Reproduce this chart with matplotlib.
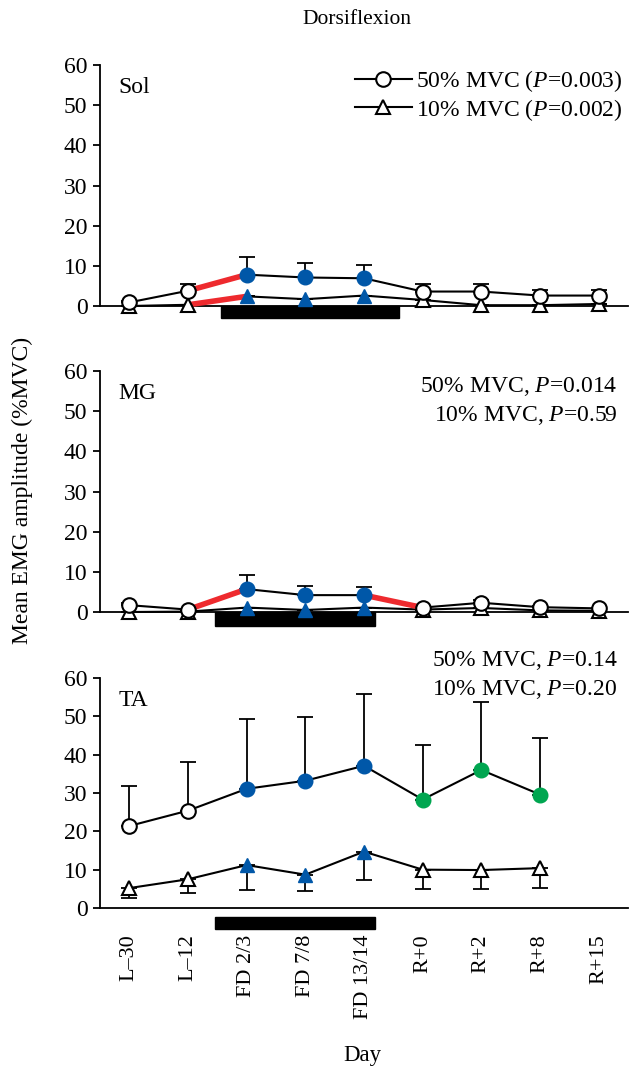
import numpy as np
import matplotlib
matplotlib.use("Agg")
import matplotlib.pyplot as plt
from matplotlib.lines import Line2D
from matplotlib.patches import Rectangle
import matplotlib.transforms as mtransforms

plt.rcParams['font.family'] = ['Liberation Serif', 'DejaVu Serif']
plt.rcParams['mathtext.fontset'] = 'custom'
plt.rcParams['mathtext.rm'] = 'Liberation Serif'
plt.rcParams['mathtext.it'] = 'Liberation Serif:italic'

days = ['L\u201330', 'L\u201312', 'FD 2/3', 'FD 7/8', 'FD 13/14', 'R+0', 'R+2', 'R+8', 'R+15']

# Sol
sol50 = [0.9, 3.8, 7.8, 7.1, 6.9, 3.6, 3.6, 2.6, 2.6]
sol50_err = [0.3, 1.7, 4.4, 3.7, 3.4, 1.8, 1.8, 1.5, 1.5]
sol10 = [0.0, 0.3, 2.4, 1.7, 2.6, 1.5, 0.2, 0.2, 0.5]
sol10_err = [0, 0, 0, 0, 0, 0, 0, 0, 0]

# MG
mg50 = [1.7, 0.6, 5.7, 4.2, 4.2, 1.1, 2.3, 1.2, 0.9]
mg50_err = [0.6, 0.2, 3.4, 2.2, 2.1, 0.3, 0.8, 0.3, 0.2]
mg10 = [0.0, 0.1, 1.1, 0.5, 1.1, 0.6, 1.0, 0.4, 0.3]
mg10_err = [0, 0, 0, 0, 0, 0, 0, 0, 0]

# TA
ta50 = [21.4, 25.4, 31.1, 33.2, 37.1, 28.3, 36.0, 29.6, np.nan]
ta50_err = [10.5, 12.8, 18.1, 16.5, 18.8, 14.1, 17.8, 14.7, np.nan]
ta10 = [5.2, 7.5, 11.2, 8.7, 14.7, 10.0, 9.9, 10.4, np.nan]
ta10_err = [2.5, 3.5, 6.4, 4.3, 7.3, 5.1, 5.0, 5.2, np.nan]

# point classes: 'o' open, 'b' in-flight (blue), 'g' post-flight (green)
sol50_cls = ['o', 'o', 'b', 'b', 'b', 'o', 'o', 'o', 'o']
sol10_cls = ['o', 'o', 'b', 'b', 'b', 'o', 'o', 'o', 'o']
mg50_cls = ['o', 'o', 'b', 'b', 'b', 'o', 'o', 'o', 'o']
mg10_cls = ['o', 'o', 'b', 'b', 'b', 'o', 'o', 'o', 'o']
ta50_cls = ['o', 'o', 'b', 'b', 'b', 'g', 'g', 'g', 'o']
ta10_cls = ['o', 'o', 'b', 'b', 'b', 'o', 'o', 'o', 'o']

# significant changes (red segments)
sol50_red = [(1, 2)]
sol10_red = [(1, 2)]
mg50_red = [(1, 2), (4, 5)]
mg10_red = []
ta50_red = []
ta10_red = []

colors = {'o': 'white', 'b': '#0057a8', 'g': '#00a650'}
x = np.arange(len(days))

W, H = 629, 1069
fig = plt.figure(figsize=(W / 100, H / 100), dpi=100)


def add_ax(top, bottom):
    return fig.add_axes([100 / W, (H - bottom) / H, 528 / W, (bottom - top) / H])


def draw_series(ax, vals, errs, cls, red, marker, err_up):
    vals = np.array(vals, dtype=float)
    errs = np.array(errs, dtype=float)
    if err_up:
        yerr = [np.zeros_like(errs), errs]
    else:
        yerr = [errs, np.zeros_like(errs)]
    ax.errorbar(x, vals, yerr=yerr, fmt='none', ecolor='black', elinewidth=1.3,
                capsize=6, capthick=1.3, zorder=2, clip_on=False)
    ax.plot(x, vals, color='black', lw=1.5, zorder=3, clip_on=False)
    for i, j in red:
        ax.plot([x[i], x[j]], [vals[i], vals[j]], color='#ee2a2e', lw=4, zorder=3.5,
                solid_capstyle='butt', clip_on=False)
    for k, c in enumerate(cls):
        if np.isnan(vals[k]):
            continue
        if c == 'o':
            ax.plot(x[k], vals[k], marker=marker, ms=10.5, mfc='white', mec='black',
                    mew=1.5, zorder=4, clip_on=False)
        else:
            ax.plot(x[k], vals[k], marker=marker, ms=10.5, mfc=colors[c], mec=colors[c],
                    mew=1.0, zorder=4, clip_on=False)


def style_ax(ax, span, bar_y0, bar_h, show_x):
    ax.set_xlim(-0.5, 8.5)
    ax.set_ylim(0, 60)
    ax.set_yticks([0, 10, 20, 30, 40, 50, 60])
    ax.spines['top'].set_visible(False)
    ax.spines['right'].set_visible(False)
    ax.spines['left'].set_linewidth(1.3)
    ax.spines['bottom'].set_linewidth(1.3)
    ax.tick_params(axis='y', direction='out', length=5, width=1.3, labelsize=17, pad=4)
    ax.set_xticks(x)
    if show_x:
        ax.set_xticklabels(days, rotation=90, fontsize=16)
        ax.tick_params(axis='x', length=0, pad=19)
    else:
        ax.set_xticklabels([])
        ax.tick_params(axis='x', length=0)
    trans = mtransforms.blended_transform_factory(ax.transData, ax.transAxes)
    ax.add_patch(Rectangle((span[0], bar_y0), span[1] - span[0], bar_h,
                           transform=trans, color='black', clip_on=False, zorder=1))


# panel 1: Sol
ax1 = add_ax(65, 306)
draw_series(ax1, sol10, sol10_err, sol10_cls, sol10_red, '^', False)
draw_series(ax1, sol50, sol50_err, sol50_cls, sol50_red, 'o', True)
style_ax(ax1, (1.56, 4.59), -12 / 241, 12 / 241, False)
ax1.text(0.035, 0.905, 'Sol', transform=ax1.transAxes, fontsize=17, va='center')
h50 = Line2D([], [], color='black', lw=1.5, marker='o', ms=10.5, mfc='white', mec='black', mew=1.5)
h10 = Line2D([], [], color='black', lw=1.5, marker='^', ms=10.5, mfc='white', mec='black', mew=1.5)
ax1.legend([h50, h10], ['50% MVC ($P$=0.003)', '10% MVC ($P$=0.002)'],
           loc='upper right', bbox_to_anchor=(1.022, 1.055), frameon=False, fontsize=17,
           handlelength=2.4, handletextpad=0.2, labelspacing=0.1, borderpad=0.2)

# panel 2: MG
ax2 = add_ax(371, 612)
draw_series(ax2, mg10, mg10_err, mg10_cls, mg10_red, '^', False)
draw_series(ax2, mg50, mg50_err, mg50_cls, mg50_red, 'o', True)
style_ax(ax2, (1.46, 4.19), -14 / 241, 14 / 241, False)
ax2.text(0.035, 0.905, 'MG', transform=ax2.transAxes, fontsize=17, va='center')
ax2.text(0.98, 0.985, '50% MVC, $P$=0.014\n10% MVC, $P$=0.59', transform=ax2.transAxes,
         fontsize=17, ha='right', va='top', linespacing=1.35)

# panel 3: TA
ax3 = add_ax(678, 908)
draw_series(ax3, ta10, ta10_err, ta10_cls, ta10_red, '^', False)
draw_series(ax3, ta50, ta50_err, ta50_cls, ta50_red, 'o', True)
style_ax(ax3, (1.46, 4.19), -21 / 230, 12 / 230, True)
ax3.text(0.035, 0.9, 'TA', transform=ax3.transAxes, fontsize=17, va='center')
ax3.text(0.98, 1.125, '50% MVC, $P$=0.14\n10% MVC, $P$=0.20', transform=ax3.transAxes,
         fontsize=17, ha='right', va='top', linespacing=1.35)

fig.text(357 / W, 1 - 19 / H, 'Dorsiflexion', ha='center', va='center', fontsize=15.5)
fig.text(22 / W, 1 - 490 / H, 'Mean EMG amplitude (%MVC)', ha='center', va='center',
         rotation=90, fontsize=17)
fig.text(362 / W, 1 - 1055 / H, 'Day', ha='center', va='center', fontsize=16.5)

fig.savefig('out.png', dpi=100)
